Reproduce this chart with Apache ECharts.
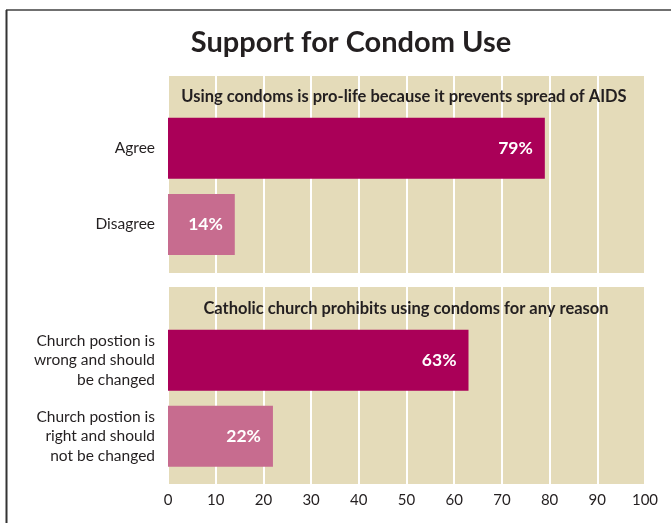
<!DOCTYPE html>
<html>
<head>
<meta charset="utf-8">
<script src="https://cdn.jsdelivr.net/npm/echarts@6/dist/echarts.min.js"></script>
<style>
  html, body { margin: 0; padding: 0; background: #ffffff; }
  #chart { width: 671px; height: 523px; }
</style>
</head>
<body>
<div id="chart"></div>
<script>
// Survey results, percent of respondents
const chartTitle = 'Support for Condom Use';
const panelTitles = [
  'Using condoms is pro-life because it prevents spread of AIDS',
  'Catholic church prohibits using condoms for any reason'
];
const topCategories = ['Agree', 'Disagree'];
const topValues = [79, 14];
const bottomCategories = [
  'Church postion is\nwrong and should\nbe changed',
  'Church postion is\nright and should\nnot be changed'
];
const bottomValues = [63, 22];
const axisMin = 0;
const axisMax = 100;
const axisStep = 10;

const FONT = 'Lato, "Open Sans", sans-serif';
const INK = '#231f20';
const PANEL = '#e4dbb9';
const BAR_COLORS = ['#aa0058', '#c76c8f'];

const PLOT_LEFT = 168;
const PLOT_WIDTH = 477;

const chart = echarts.init(document.getElementById('chart'), null, { renderer: 'canvas' });

function panelGrid(top, height) {
  return {
    left: PLOT_LEFT, width: PLOT_WIDTH, top: top, height: height,
    show: true, backgroundColor: PANEL, borderWidth: 0, containLabel: false
  };
}
function barGrid(top, height) {
  return { left: PLOT_LEFT, width: PLOT_WIDTH, top: top, height: height, containLabel: false };
}
function valueAxis(gridIndex, opts) {
  return Object.assign({
    type: 'value', gridIndex: gridIndex,
    min: axisMin, max: axisMax, interval: axisStep,
    axisLine: { show: false }, axisTick: { show: false },
    axisLabel: { show: false },
    splitLine: { show: false }
  }, opts || {});
}
function categoryAxis(gridIndex, cats) {
  return {
    type: 'category', gridIndex: gridIndex, data: cats, inverse: true,
    axisLine: { show: false }, axisTick: { show: false },
    axisLabel: {
      color: INK, fontFamily: FONT, fontSize: 15.5, lineHeight: 19.5,
      align: 'right', margin: 13, padding: [0, 0, 3, 0]
    },
    splitLine: { show: false }
  };
}
function hiddenY(gridIndex) {
  return { type: 'value', gridIndex: gridIndex, min: 0, max: 1, show: false };
}
function barSeries(axisIndex, values) {
  return {
    type: 'bar', xAxisIndex: axisIndex, yAxisIndex: axisIndex,
    barWidth: 61,
    data: values.map((v, i) => ({ value: v, itemStyle: { color: BAR_COLORS[i] } })),
    label: {
      show: true, position: 'insideRight', distance: 12,
      formatter: '{c}%', color: '#ffffff',
      fontFamily: FONT, fontWeight: 'bold', fontSize: 17.5
    },
    silent: true, animation: false
  };
}
const whiteSplit = { show: true, lineStyle: { color: '#ffffff', width: 2 } };

const option = {
  animation: false,
  grid: [
    panelGrid(76, 197),
    barGrid(110, 152.6),
    panelGrid(287, 197),
    barGrid(322.3, 152)
  ],
  xAxis: [
    valueAxis(0, { splitLine: whiteSplit }),
    valueAxis(1),
    valueAxis(2, {
      splitLine: whiteSplit,
      axisLabel: { show: true, color: INK, fontFamily: FONT, fontSize: 15, margin: 9 }
    }),
    valueAxis(3)
  ],
  yAxis: [
    hiddenY(0),
    categoryAxis(1, topCategories),
    hiddenY(2),
    categoryAxis(3, bottomCategories)
  ],
  series: [
    barSeries(1, topValues),
    barSeries(3, bottomValues)
  ],
  graphic: [
    { type: 'line', shape: { x1: 6, y1: 10, x2: 671, y2: 10 },
      style: { stroke: '#707070', lineWidth: 2 }, silent: true },
    { type: 'line', shape: { x1: 6.5, y1: 10, x2: 6.5, y2: 523 },
      style: { stroke: '#333333', lineWidth: 2 }, silent: true },
    { type: 'text', x: 351, y: 43, silent: true,
      style: { text: chartTitle, fill: INK, font: 'bold 29px ' + FONT,
        align: 'center', verticalAlign: 'middle', textAlign: 'center', textVerticalAlign: 'middle' } },
    { type: 'text', x: 404, y: 97, silent: true, z: 10,
      style: { text: panelTitles[0], fill: INK, font: 'bold 16.5px ' + FONT,
        align: 'center', verticalAlign: 'middle', textAlign: 'center', textVerticalAlign: 'middle' } },
    { type: 'text', x: 406, y: 309, silent: true, z: 10,
      style: { text: panelTitles[1], fill: INK, font: 'bold 16.5px ' + FONT,
        align: 'center', verticalAlign: 'middle', textAlign: 'center', textVerticalAlign: 'middle' } }
  ]
};
chart.setOption(option);
</script>
</body>
</html>
